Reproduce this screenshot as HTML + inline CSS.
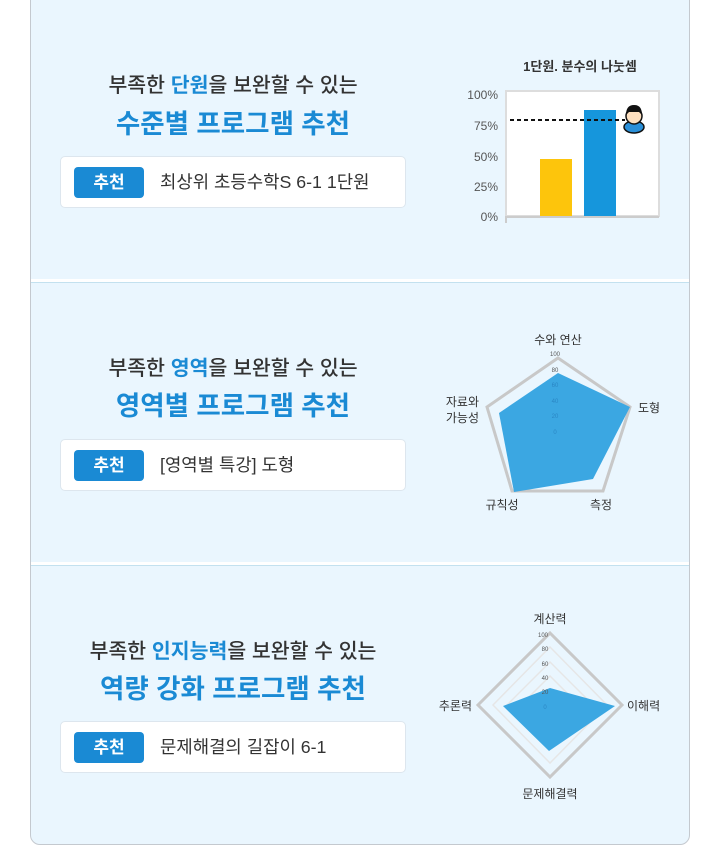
<!DOCTYPE html>
<html><head><meta charset="utf-8"><style>
*{margin:0;padding:0;box-sizing:border-box}
body{width:720px;height:845px;background:#fff;font-family:"Liberation Sans","Noto Sans CJK KR",sans-serif;position:relative;overflow:hidden}
.wrap{position:absolute;left:30px;top:-10px;width:660px;height:855px;background:#eaf6fe;border:1px solid #c4c9cf;border-radius:10px}
.div{position:absolute;left:31px;width:658px;height:4px;background:#fff;border-bottom:1px solid #c3e1ef}
.t1{position:absolute;width:346px;left:60px;text-align:center;font-size:20.5px;color:#333;font-weight:500;white-space:nowrap}
.t1 b{color:#1a8ad4}
.t2{position:absolute;width:346px;left:60px;text-align:center;font-size:26.5px;color:#1a8ad4;font-weight:bold;white-space:nowrap}
.card{position:absolute;left:60px;width:346px;height:52px;background:#fff;border:1px solid #dde6ee;border-radius:5px}
.badge{position:absolute;left:13px;top:10px;width:70px;height:31px;background:#1a8ad4;border-radius:4px;color:#fff;font-weight:bold;font-size:17px;text-align:center;line-height:31px}
.ct{position:absolute;left:99px;top:0;line-height:50px;font-size:17.8px;color:#333;white-space:nowrap}
svg{position:absolute;left:0;top:0}
</style></head><body>
<div class="wrap"></div>
<div class="div" style="top:279px"></div>
<div class="div" style="top:562px"></div>

<div class="t1" style="top:68px">부족한 <b>단원</b>을 보완할 수 있는</div>
<div class="t2" style="top:102px">수준별 프로그램 추천</div>
<div class="card" style="top:156px"><div class="badge">추천</div><div class="ct">최상위 초등수학S 6-1 1단원</div></div>

<div class="t1" style="top:351px">부족한 <b>영역</b>을 보완할 수 있는</div>
<div class="t2" style="top:384px">영역별 프로그램 추천</div>
<div class="card" style="top:439px"><div class="badge">추천</div><div class="ct">[영역별 특강] 도형</div></div>

<div class="t1" style="top:634px">부족한 <b>인지능력</b>을 보완할 수 있는</div>
<div class="t2" style="top:667px">역량 강화 프로그램 추천</div>
<div class="card" style="top:721px"><div class="badge">추천</div><div class="ct">문제해결의 길잡이 6-1</div></div>

<svg width="720" height="845" font-family="Liberation Sans, Noto Sans CJK KR, sans-serif">
<text x="580" y="71" text-anchor="middle" font-size="13" font-weight="bold" fill="#333">1단원. 분수의 나눗셈</text>
<rect x="506" y="91" width="153" height="125" fill="#fff" stroke="#ddd" stroke-width="2"/>
<line x1="506" y1="217" x2="659" y2="217" stroke="#ccc" stroke-width="2"/>
<line x1="506" y1="216" x2="506" y2="223" stroke="#ccc" stroke-width="2"/>
<g font-size="12" fill="#555" text-anchor="end">
<text x="498" y="99">100%</text><text x="498" y="130">75%</text><text x="498" y="161">50%</text><text x="498" y="191">25%</text><text x="498" y="221">0%</text></g>
<rect x="540" y="159" width="32" height="57" fill="#fdc50c"/>
<rect x="584" y="110" width="32" height="106" fill="#1696dc"/>
<line x1="510" y1="120" x2="625" y2="120" stroke="#111" stroke-width="2" stroke-dasharray="4,3"/>
<ellipse cx="634" cy="127" rx="10" ry="6" fill="#2a8fd8" stroke="#111" stroke-width="1.5"/>
<circle cx="634" cy="116" r="8" fill="#fde0c0" stroke="#111" stroke-width="1.5"/>
<path d="M626 115 Q626 105 634 105 Q642 105 642 115 L639 112 L629 112 Z" fill="#111"/>

<polygon points="558,358 630,407 603,491 512,491 487,407" fill="none" stroke="#c8c8c8" stroke-width="3"/>
<polygon points="558,373 630,407 593,479 514,492 499,413" fill="#3ba7e2"/>
<g font-size="6" fill="#555" text-anchor="middle"><text x="555" y="356">100</text><text x="555" y="372">80</text><text x="555" y="387" fill="#2a86c4">60</text><text x="555" y="403" fill="#2a86c4">40</text><text x="555" y="418" fill="#2a86c4">20</text><text x="555" y="434" fill="#2a86c4">0</text></g>
<g font-size="12" fill="#333">
<text x="558" y="344" text-anchor="middle">수와 연산</text>
<text x="638" y="412">도형</text>
<text x="601" y="509" text-anchor="middle">측정</text>
<text x="502" y="509" text-anchor="middle">규칙성</text>
<text x="479" y="406" text-anchor="end">자료와</text><text x="479" y="422" text-anchor="end">가능성</text></g>

<g fill="none" stroke="#e6e6e6" stroke-width="1.5">
<polygon points="550,647 607,705 550,763 493,705"/><polygon points="550,662 593,705 550,748 507,705"/><polygon points="550,676 579,705 550,734 521,705"/></g>
<polygon points="550,633 622,705 550,777 478,705" fill="none" stroke="#c8c8c8" stroke-width="3"/>
<polygon points="550,688 615,706 549,751 503,706" fill="#3ba7e2"/>
<g font-size="6" fill="#555" text-anchor="middle"><text x="543" y="637">100</text><text x="545" y="651">80</text><text x="545" y="666">60</text><text x="545" y="680">40</text><text x="545" y="694">20</text><text x="545" y="709" fill="#2a86c4">0</text></g>
<g font-size="12" fill="#333">
<text x="550" y="623" text-anchor="middle">계산력</text>
<text x="627" y="710">이해력</text>
<text x="550" y="798" text-anchor="middle">문제해결력</text>
<text x="472" y="710" text-anchor="end">추론력</text></g>
</svg>
</body></html>
